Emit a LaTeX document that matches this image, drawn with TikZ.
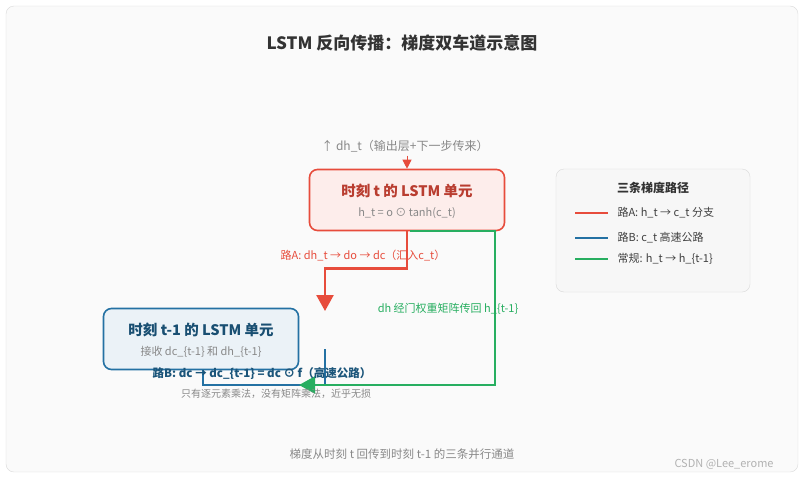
\documentclass[tikz,border=0pt]{standalone}
\usepackage{fontspec}
\setmainfont{Noto Sans CJK SC}
\usetikzlibrary{positioning,arrows.meta}
\definecolor{pathA}{HTML}{E74C3C}
\definecolor{pathB}{HTML}{2471A3}
\definecolor{pathC}{HTML}{27AE60}
\definecolor{txtgray}{HTML}{888888}
\tikzset{
  cell/.style={draw, line width=1.6pt, rounded corners=8pt, minimum width=195pt, minimum height=61pt},
  celltitle/.style={font=\fontsize{14.5}{16}\selectfont\bfseries},
  cellsub/.style={font=\fontsize{11}{13}\selectfont, text=txtgray},
  legline/.style={line width=2.2pt},
  legtext/.style={font=\fontsize{11}{13}\selectfont, text=black!75, anchor=west}
}
\begin{document}
\begin{tikzpicture}[x=1pt,y=-1pt]
        % canvas
        \useasboundingbox (0,0) rectangle (805,479);
        \draw[black!15, fill=black!2, rounded corners=8pt] (6,6) rectangle (798,472);
        
        % Title
        \node[font=\fontsize{17}{19}\selectfont\bfseries, text=black!80] (title) at (402,43) {LSTM 反向传播：梯度双车道示意图};
        
        % cells
        \node[cell, draw=pathA, fill=pathA!10] (cellt) at (407,200) {};
        \node[celltitle, text=pathA!80!black] at (407,191) {时刻 t 的 LSTM 单元};
        \node[cellsub] at (407,213) {h\_t = o ⊙ tanh(c\_t)};
        
        \node[cell, draw=pathB, fill=pathB!9] (cellp) at (201,339) {};
        \node[celltitle, text=pathB!70!black] at (201,330) {时刻 t-1 的 LSTM 单元};
        \node[cellsub] at (201,352) {接收 dc\_\{t-1\} 和 dh\_\{t-1\}};
        
        % incoming gradient
        \node[cellsub, font=\fontsize{12}{14}\selectfont] (dhin) at (405,146) {↑ dh\_t（输出层+下一步传来）};
        \draw[-{Triangle[length=9pt,width=9pt]}, pathA, line width=1pt] (dhin.south -| cellt.north) -- (cellt.north);
        
        % path A
        \coordinate (aend) at (325,311);
        \draw[pathA, line width=2.5pt, -{Triangle[length=16pt,width=17pt]}]
            (cellt.south) -- ++(0,37) -| (aend);
        \node[font=\fontsize{11}{13}\selectfont, text=pathA] (labA) at (363,256) {路A: dh\_t → do → dc（汇入c\_t）};
        
        % path B
        \coordinate (bstart) at (325,349);
        \draw[pathB, line width=2.5pt] (bstart) |- (203,385) -- (203,370);
        
        % regular path
        \coordinate (cstart) at (410,231);
        \draw[pathC, line width=2.5pt, -{Triangle[length=16pt,width=17pt]}]
            (cstart) -- (495,231) |- (299,385);
        \node[font=\fontsize{11}{13}\selectfont, text=pathC] (labC) at (448,309) {dh 经门权重矩阵传回 h\_\{t-1\}};
        
        \node[font=\fontsize{11.5}{13}\selectfont\bfseries, text=pathB!75!black] (labB) at (262,374) {路B: dc → dc\_\{t-1\} = dc ⊙ f（高速公路）};
        \node[font=\fontsize{10}{12}\selectfont, text=txtgray] (noteB) at (276,394) {只有逐元素乘法，没有矩阵乘法，近乎无损};
        
        % Legend
        \draw[black!15, fill=black!3, rounded corners=8pt] (556,169) rectangle (750,292);
        \node[font=\fontsize{12}{14}\selectfont\bfseries, text=black!80] (legtitle) at (653,188) {三条梯度路径};
        \foreach \y/\c/\t in {213/pathA/{路A: h\_t → c\_t 分支}, 238/pathB/{路B: c\_t 高速公路}, 259/pathC/{常规: h\_t → h\_\{t-1\}}} {
            \draw[legline, \c] (575,\y) -- (608,\y);
            \node[legtext] at (614,\y) {\t};
        }
        
        % footer
        \node[font=\fontsize{11.5}{13}\selectfont, text=txtgray] (footer) at (402,454) {梯度从时刻 t 回传到时刻 t-1 的三条并行通道};
        \node[font=\fontsize{11}{13}\selectfont, text=black!30] (mark) at (724,464) {CSDN @Lee\_erome};
    \end{tikzpicture}
\end{document}
